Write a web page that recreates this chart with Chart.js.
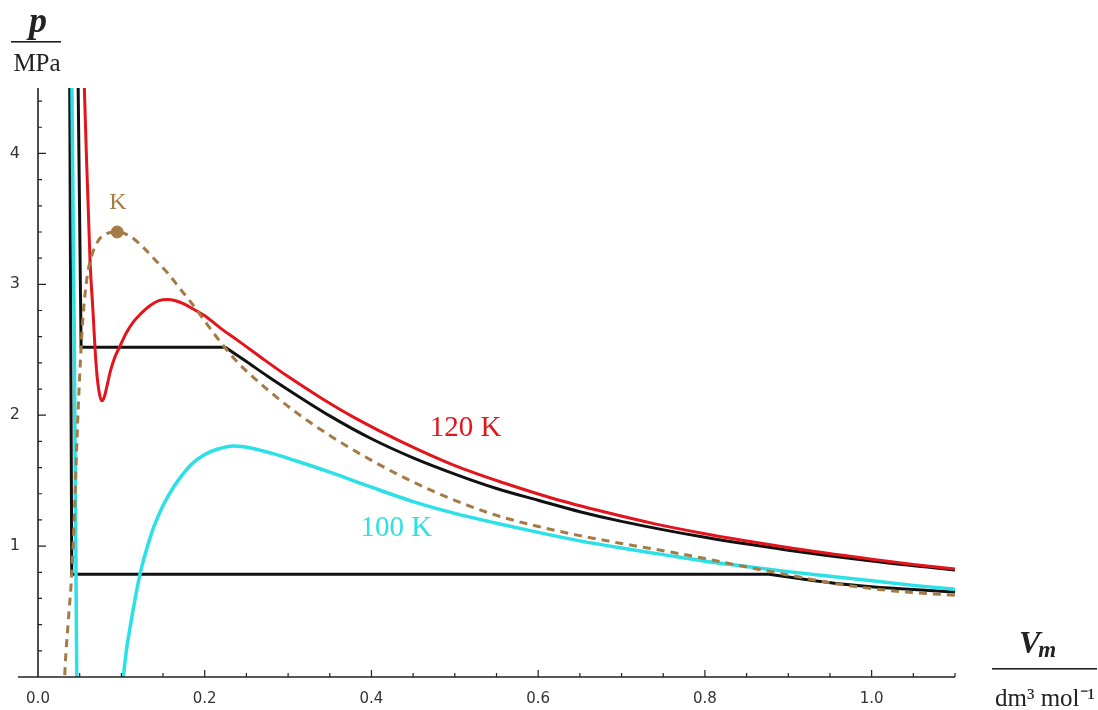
<!DOCTYPE html>
<html>
<head>
<meta charset="utf-8">
<script src="https://cdn.jsdelivr.net/npm/chart.js@4"></script>
<style>
  html, body { margin: 0; padding: 0; background: #fff; }
  #wrap { width: 1098px; height: 710px; }
</style>
</head>
<body>
<div id="wrap"><canvas id="myChart" width="1098" height="710"></canvas></div>
<script>
// van der Waals isotherm 120 K (red)
const redV = [0.054, 0.0556, 0.058, 0.060, 0.0625, 0.066, 0.0685, 0.071, 0.0735, 0.0765, 0.0795, 0.083, 0.087, 0.092, 0.0985, 0.106, 0.114, 0.1225, 0.135, 0.145, 0.155, 0.165, 0.175, 0.185, 0.2, 0.22, 0.24, 0.27, 0.3, 0.34, 0.38, 0.435, 0.5, 0.56, 0.62, 0.68, 0.74, 0.8, 0.86, 0.92, 1.0, 1.05, 1.1];
const redP = [4.8, 4.5, 4.0, 3.63, 3.17, 2.79, 2.50, 2.29, 2.17, 2.11, 2.14, 2.23, 2.34, 2.44, 2.53, 2.63, 2.71, 2.77, 2.84, 2.875, 2.885, 2.875, 2.85, 2.815, 2.76, 2.66, 2.57, 2.43, 2.295, 2.13, 1.98, 1.80, 1.615, 1.48, 1.36, 1.26, 1.17, 1.095, 1.03, 0.97, 0.90, 0.86, 0.825];

// van der Waals isotherm 100 K (cyan)
const cyanV = [0.0405, 0.0436, 0.0465, 0.0475, 0.100, 0.1025, 0.106, 0.1105, 0.116, 0.1225, 0.13, 0.1385, 0.15, 0.1625, 0.175, 0.1866, 0.2, 0.215, 0.235, 0.255, 0.28, 0.31, 0.35, 0.4, 0.45, 0.5, 0.55, 0.6, 0.65, 0.7, 0.75, 0.8, 0.85, 0.9, 0.95, 1.0, 1.05, 1.1];
const cyanP = [4.6, 2.5, 0.0, -0.6, -0.25, 0.0, 0.2, 0.38, 0.58, 0.79, 0.97, 1.14, 1.31, 1.45, 1.56, 1.64, 1.70, 1.74, 1.765, 1.75, 1.71, 1.65, 1.565, 1.45, 1.34, 1.25, 1.175, 1.105, 1.04, 0.985, 0.935, 0.885, 0.845, 0.805, 0.77, 0.735, 0.70, 0.67];

// real isotherms: steep liquid branch + horizontal tie line, then gas branch (black)
const blackHiLineV = [0.048, 0.0517, 0.2246];
const blackHiLineP = [4.6, 2.52, 2.52];
const blackHiGasV = [0.2246, 0.25, 0.275, 0.3, 0.35, 0.4, 0.45, 0.5, 0.55, 0.6, 0.65, 0.7, 0.8, 0.9, 1.0, 1.1];
const blackHiGasP = [2.52, 2.41, 2.30, 2.195, 1.995, 1.82, 1.674, 1.55, 1.44, 1.35, 1.263, 1.189, 1.067, 0.969, 0.886, 0.817];
const blackLoLineV = [0.038, 0.0405, 0.877];
const blackLoLineP = [4.6, 0.785, 0.785];
const blackLoGasV = [0.877, 0.915, 0.955, 1.0, 1.05, 1.1];
const blackLoGasP = [0.785, 0.75, 0.716, 0.69, 0.668, 0.65];

// dashed boundary curve through the critical point K
const dashV = [0.031, 0.032, 0.036, 0.0405, 0.044, 0.047, 0.05, 0.054, 0.059, 0.065, 0.072, 0.08, 0.095, 0.11, 0.125, 0.14, 0.155, 0.17, 0.185, 0.2, 0.22, 0.24, 0.26, 0.28, 0.31, 0.35, 0.4, 0.45, 0.5, 0.55, 0.6, 0.65, 0.7, 0.75, 0.8, 0.85, 0.9, 0.95, 1.0, 1.05, 1.1];
const dashP = [-0.2, 0.0, 0.4, 0.79, 1.3, 1.85, 2.3, 2.75, 3.06, 3.23, 3.33, 3.38, 3.40, 3.37, 3.29, 3.19, 3.09, 2.97, 2.85, 2.72, 2.55, 2.40, 2.28, 2.17, 2.02, 1.845, 1.655, 1.49, 1.35, 1.235, 1.15, 1.08, 1.02, 0.965, 0.905, 0.84, 0.78, 0.72, 0.675, 0.645, 0.625];

// critical point
const critV = [0.095];
const critP = [3.40];

const yMajor = [1, 2, 3, 4];

const RED = '#e3141c';
const CYAN = '#2be0e6';
const BROWN = '#a57a45';
const BLACK = '#111111';

function pts(xs, ys) {
    return xs.map((x, i) => ({ x: x, y: ys[i] }));
}

function curve(label, xs, ys, color, width, order, smooth, dash) {
    return {
        label: label,
        data: pts(xs, ys),
        showLine: true,
        borderColor: color,
        borderWidth: width,
        borderDash: dash || [],
        pointRadius: 0,
        tension: 0,
        cubicInterpolationMode: smooth ? 'monotone' : 'default',
        order: order
    };
}

const axesPlugin = {
    id: 'axesPlugin',
    afterDatasetsDraw(chart) {
        const ctx = chart.ctx;
        const xs = chart.scales.x;
        const ys = chart.scales.y;
        const x0 = xs.getPixelForValue(0);
        const y0 = ys.getPixelForValue(0);
        ctx.save();
        ctx.strokeStyle = '#222';
        ctx.lineWidth = 1.6;
        ctx.beginPath();
        ctx.moveTo(18, y0);
        ctx.lineTo(chart.chartArea.right, y0);
        ctx.moveTo(x0, y0);
        ctx.lineTo(x0, chart.chartArea.top);
        ctx.stroke();

        // ticks point inwards, major ones longer
        ctx.lineWidth = 1.2;
        ctx.beginPath();
        for (let k = 1; k <= 22; k++) {
            const px = xs.getPixelForValue(k * 0.05);
            const len = (k % 4 === 0) ? 7 : 4;
            ctx.moveTo(px, y0);
            ctx.lineTo(px, y0 - len);
        }
        for (let k = 1; k <= 22; k++) {
            const py = ys.getPixelForValue(k * 0.2);
            const len = (k % 5 === 0) ? 8 : 4;
            ctx.moveTo(x0, py);
            ctx.lineTo(x0 + len, py);
        }
        ctx.stroke();

        // curve labels
        ctx.textAlign = 'center';
        ctx.textBaseline = 'alphabetic';
        ctx.font = '29px "Liberation Serif"';
        ctx.fillStyle = RED;
        ctx.fillText('120 K', xs.getPixelForValue(0.513), ys.getPixelForValue(1.84));
        ctx.fillStyle = CYAN;
        ctx.fillText('100 K', xs.getPixelForValue(0.430), ys.getPixelForValue(1.08));
        ctx.font = '24px "Liberation Serif"';
        ctx.fillStyle = BROWN;
        ctx.fillText('K', xs.getPixelForValue(0.096), ys.getPixelForValue(3.575));

        // axis titles written as fractions
        ctx.fillStyle = '#222';
        ctx.font = 'italic bold 36px "Liberation Serif"';
        ctx.fillText('p', 38, 32);
        ctx.fillRect(11, 41, 50, 1.6);
        ctx.font = '25px "Liberation Serif"';
        ctx.fillText('MPa', 37, 71);

        ctx.textAlign = 'left';
        ctx.font = 'italic bold 32px "Liberation Serif"';
        ctx.fillText('V', 1019, 653);
        const vw = ctx.measureText('V').width;
        ctx.font = 'italic bold 23px "Liberation Serif"';
        ctx.fillText('m', 1019 + vw - 2, 657);
        ctx.fillRect(992, 668, 105, 1.6);
        ctx.textAlign = 'center';
        ctx.font = '25px "Liberation Serif"';
        ctx.fillText('dm\u00b3 mol\u207b\u00b9', 1045, 706);
        ctx.restore();
    }
};

const data = {
    datasets: [
        {
            label: 'K',
            data: pts(critV, critP),
            showLine: false,
            pointRadius: 6,
            pointHoverRadius: 6,
            pointBackgroundColor: BROWN,
            pointBorderColor: BROWN,
            order: 0
        },
        curve('boundary', dashV, dashP, BROWN, 3, 1, true, [8, 6]),
        curve('120 K', redV, redP, RED, 3, 2, true),
        curve('100 K', cyanV, cyanP, CYAN, 3.5, 3, true),
        curve('120 K real gas', blackHiGasV, blackHiGasP, BLACK, 3, 4, true),
        curve('120 K real tie', blackHiLineV, blackHiLineP, BLACK, 3, 5, false),
        curve('100 K real gas', blackLoGasV, blackLoGasP, BLACK, 3, 6, true),
        curve('100 K real tie', blackLoLineV, blackLoLineP, BLACK, 3, 7, false)
    ]
};

const config = {
    type: 'scatter',
    data: data,
    options: {
        responsive: false,
        animation: false,
        devicePixelRatio: 1,
        layout: {
            padding: { left: 0, right: 143, top: 88, bottom: 0 }
        },
        plugins: {
            legend: { display: false },
            tooltip: { enabled: false },
            title: { display: false }
        },
        scales: {
            x: {
                type: 'linear',
                min: 0,
                max: 1.1,
                grid: { display: false, drawTicks: false },
                border: { display: false },
                ticks: {
                    stepSize: 0.2,
                    includeBounds: false,
                    padding: 13,
                    color: '#333',
                    font: { family: 'DejaVu Sans', size: 15 },
                    callback: function (value) {
                        return value.toFixed(1);
                    }
                },
                afterFit: function (scale) { scale.height = 33; }
            },
            y: {
                type: 'linear',
                min: 0,
                max: 4.5,
                grid: { display: false, drawTicks: false },
                border: { display: false },
                ticks: {
                    stepSize: 1,
                    includeBounds: false,
                    padding: 18,
                    color: '#333',
                    font: { family: 'DejaVu Sans', size: 16 },
                    callback: function (value) {
                        return yMajor.includes(value) ? String(value) : '';
                    }
                },
                afterFit: function (scale) { scale.width = 38; }
            }
        }
    },
    plugins: [axesPlugin]
};

window.myChart = new Chart(document.getElementById('myChart'), config);
</script>
</body>
</html>
